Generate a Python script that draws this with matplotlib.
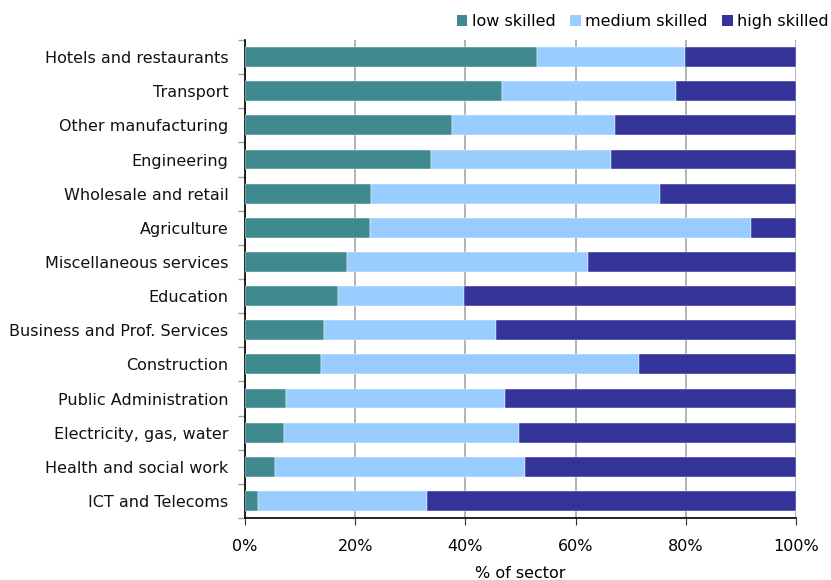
import matplotlib
matplotlib.use("Agg")
import matplotlib.pyplot as plt
from matplotlib.patches import Patch
from matplotlib.ticker import FixedLocator, PercentFormatter

sectors = [
    "Hotels and restaurants", "Transport", "Other manufacturing", "Engineering",
    "Wholesale and retail", "Agriculture", "Miscellaneous services", "Education",
    "Business and Prof. Services", "Construction", "Public Administration",
    "Electricity, gas, water", "Health and social work", "ICT and Telecoms",
]
low_skilled = [53.0, 46.6, 37.6, 33.8, 22.9, 22.7, 18.5, 16.8, 14.3, 13.8, 7.4, 7.0, 5.4, 2.3]
medium_skilled = [26.8, 31.6, 29.6, 32.7, 52.4, 69.2, 43.8, 23.0, 31.3, 57.7, 39.7, 42.7, 45.5, 30.8]
high_skilled = [round(100 - l - m, 1) for l, m in zip(low_skilled, medium_skilled)]
xticks = [0, 20, 40, 60, 80, 100]

colors = {"low skilled": "#3E8A8F", "medium skilled": "#99CCFF", "high skilled": "#333399"}

plt.rcParams["font.family"] = ["DejaVu Sans"]
fs = 11.5
fig = plt.figure(figsize=(8.31, 5.80), dpi=100)
ax = fig.add_axes([0.2948, 0.1069, 0.6631, 0.8241])

y = list(range(len(sectors)))
h = 0.58
left = [0.0] * len(sectors)
for name, vals in [("low skilled", low_skilled), ("medium skilled", medium_skilled),
                   ("high skilled", high_skilled)]:
    ax.barh(y, vals, left=left, height=h, color=colors[name], zorder=3,
            edgecolor="white", linewidth=0.3)
    left = [a + b for a, b in zip(left, vals)]

ax.set_ylim(len(sectors) - 0.5, -0.5)
ax.set_xlim(0, 100)
ax.set_yticks(y)
ax.set_yticklabels(sectors, fontsize=fs, color="#111111")
ax.tick_params(axis="y", length=0, pad=12)
ax.yaxis.set_minor_locator(FixedLocator([i - 0.5 for i in range(len(sectors) + 1)]))
ax.tick_params(axis="y", which="minor", length=5, color="#A0A0A0", width=1)

ax.set_xticks(xticks)
ax.xaxis.set_major_formatter(PercentFormatter(decimals=0))
ax.tick_params(axis="x", length=5, color="#333333", labelsize=fs, pad=10)
ax.set_xlabel("% of sector", fontsize=fs, labelpad=9)
ax.grid(axis="x", color="#A6A6A6", linewidth=1.2, zorder=0)

for s in ["top", "right"]:
    ax.spines[s].set_visible(False)
for s in ["left", "bottom"]:
    ax.spines[s].set_color("black")
    ax.spines[s].set_linewidth(1.2)

handles = [Patch(facecolor=c, label=n) for n, c in colors.items()]
fig.legend(handles=handles, loc="upper right", bbox_to_anchor=(1.015, 1.0), ncol=3,
           frameon=False, fontsize=fs, handlelength=0.65, handleheight=0.65,
           handletextpad=0.3, columnspacing=0.9)

fig.savefig("out.png", dpi=100)
